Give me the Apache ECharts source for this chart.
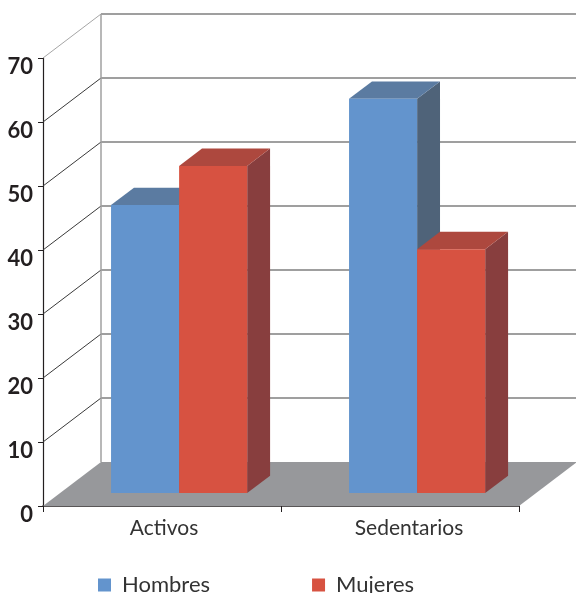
<!DOCTYPE html>
<html>
<head>
<meta charset="utf-8">
<script src="https://cdn.jsdelivr.net/npm/echarts@6/dist/echarts.min.js"></script>
<style>
  html, body { margin: 0; padding: 0; background: #fff; }
  #chart { width: 576px; height: 593px; }
</style>
</head>
<body>
<div id="chart"></div>
<script>
// Data
const categories = ['Activos', 'Sedentarios'];
const seriesNames = ['Hombres', 'Mujeres'];
const hombres = [45.0, 61.6];
const mujeres = [51.1, 38.1];
const yTicks = [0, 10, 20, 30, 40, 50, 60, 70];

// Oblique projection of the box: offset of the back wall from the front plane,
// and the depth slice (fractions of the floor) that holds the columns.
const DEPTH = [58, -44];
const BAR_FRONT = 0.295;
const BAR_BACK = 0.69;
const BAR_BAND = 0.286;   // width of one column as a share of the category band

const FONT = 'Lato, "Open Sans", sans-serif';

const shades = {
  Hombres: { front: '#6394cd', top: '#5b7ba1', side: '#4f6379' },
  Mujeres: { front: '#d75241', top: '#ad483e', side: '#883e3e' }
};

// Back wall, left wall and floor
function renderFrame(params, api) {
  const cs = params.coordSys;
  const x0 = cs.x, x1 = cs.x + cs.width;
  const dx = DEPTH[0], dy = DEPTH[1];
  const y0 = api.coord([0, 0])[1];
  const yTop = api.coord([0, yTicks[yTicks.length - 1]])[1];
  const children = [];
  children.push({
    type: 'polygon',
    shape: { points: [[x0, y0], [x1, y0], [x1 + dx, y0 + dy], [x0 + dx, y0 + dy]] },
    style: { fill: '#97989b' }
  });
  yTicks.forEach(function (v) {
    if (v === 0) return;
    const y = api.coord([0, v])[1];
    children.push({
      type: 'line',
      shape: { x1: x0 + dx, y1: y + dy, x2: x1 + dx, y2: y + dy },
      style: { stroke: '#7f7f7f', lineWidth: 1.5 }
    });
    const top = v === yTicks[yTicks.length - 1];
    children.push({
      type: 'line',
      shape: { x1: x0, y1: y, x2: x0 + dx, y2: y + dy },
      style: { stroke: top ? '#a6a6a6' : '#3a3a3a', lineWidth: 1 }
    });
  });
  children.push({
    type: 'line',
    shape: { x1: x0 + dx, y1: yTop + dy, x2: x0 + dx, y2: y0 + dy },
    style: { stroke: '#a0a0a0', lineWidth: 1.5 }
  });
  return { type: 'group', children: children };
}

// One 3D column: side, top, then front face
function makeBarRenderer(side) {
  return function (params, api) {
    const name = seriesNames[params.seriesIndex - 1];
    const col = shades[name];
    const c = api.coord([api.value(0), api.value(1)]);
    const b = api.coord([api.value(0), 0]);
    const band = api.size([1, 0])[0];
    const w = band * BAR_BAND;
    const left = side === 0 ? c[0] - w : c[0];
    const fx = DEPTH[0] * BAR_FRONT, fy = DEPTH[1] * BAR_FRONT;
    const bx = DEPTH[0] * BAR_BACK, by = DEPTH[1] * BAR_BACK;
    const right = left + w;
    return {
      type: 'group',
      children: [
        {
          type: 'polygon',
          shape: { points: [[right + fx, c[1] + fy], [right + bx, c[1] + by], [right + bx, b[1] + by], [right + fx, b[1] + fy]] },
          style: { fill: col.side }
        },
        {
          type: 'polygon',
          shape: { points: [[left + fx, c[1] + fy], [right + fx, c[1] + fy], [right + bx, c[1] + by], [left + bx, c[1] + by]] },
          style: { fill: col.top }
        },
        {
          type: 'rect',
          shape: { x: left + fx, y: c[1] + fy, width: w, height: b[1] - c[1] },
          style: { fill: col.front }
        }
      ]
    };
  };
}

const chart = echarts.init(document.getElementById('chart'), null, { renderer: 'canvas' });

chart.setOption({
  animation: false,
  backgroundColor: '#ffffff',
  grid: { left: 43, right: 57, top: 58, bottom: 87, containLabel: false },
  legend: {
    data: seriesNames,
    left: 98,
    top: 574,
    padding: 0,
    icon: 'rect',
    itemWidth: 13,
    itemHeight: 13,
    itemGap: 102,
    textStyle: { fontSize: 22, color: '#333333', fontFamily: FONT, padding: [0, 0, 0, 6] }
  },
  xAxis: {
    type: 'category',
    data: categories,
    axisLine: { lineStyle: { color: '#231f20', width: 1.5 } },
    axisTick: { show: true, length: 6, lineStyle: { color: '#231f20', width: 1 } },
    axisLabel: {
      margin: 12,
      fontSize: 21,
      color: '#333333',
      fontFamily: FONT,
      formatter: function (v) { return v === 'Activos' ? '{a|' + v + '}' : '{s|' + v + '}'; },
      rich: {
        a: { fontSize: 21, color: '#333333', fontFamily: FONT, padding: [0, 0, 0, 4] },
        s: { fontSize: 21, color: '#333333', fontFamily: FONT, padding: [0, 0, 0, 18] }
      }
    },
    splitLine: { show: false }
  },
  yAxis: {
    type: 'value',
    min: 0,
    max: 70,
    interval: 10,
    axisLine: { show: true, lineStyle: { color: '#231f20', width: 1.2 } },
    axisTick: { show: true, length: 5, lineStyle: { color: '#231f20' } },
    axisLabel: {
      margin: 10, fontSize: 22, fontWeight: 'bold', color: '#231f20', fontFamily: FONT,
      verticalAlign: 'top', lineHeight: 17
    },
    splitLine: { show: false }
  },
  series: [
    {
      type: 'custom',
      name: 'frame',
      renderItem: renderFrame,
      data: [[0, 0]],
      encode: { x: 0, y: 1 },
      clip: false,
      silent: true,
      z: 1
    },
    {
      type: 'custom',
      name: seriesNames[0],
      renderItem: makeBarRenderer(0),
      itemStyle: { color: shades.Hombres.front },
      data: hombres.map(function (v, i) { return [i, v]; }),
      encode: { x: 0, y: 1 },
      clip: false,
      z: 2
    },
    {
      type: 'custom',
      name: seriesNames[1],
      renderItem: makeBarRenderer(1),
      itemStyle: { color: shades.Mujeres.front },
      data: mujeres.map(function (v, i) { return [i, v]; }),
      encode: { x: 0, y: 1 },
      clip: false,
      z: 3
    }
  ]
});
</script>
</body>
</html>
